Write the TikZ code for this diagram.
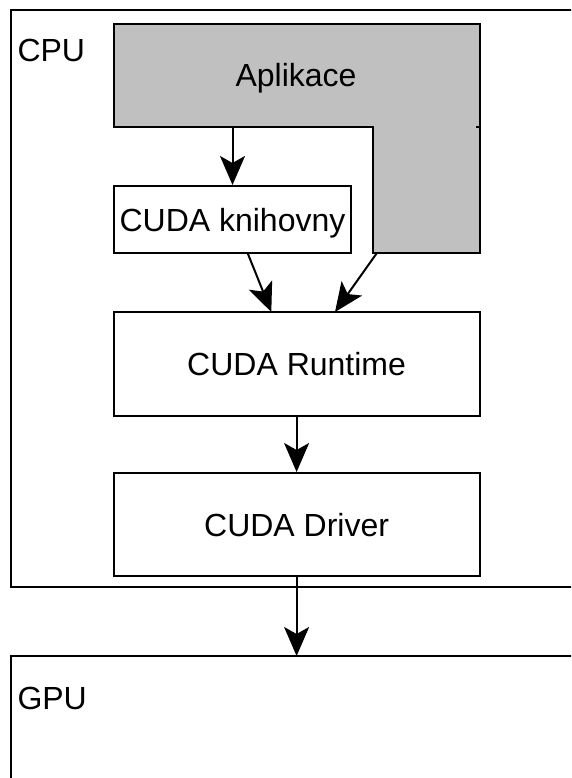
\documentclass[tikz,border=0pt]{standalone}
\usepackage{fontspec}
\setmainfont{Liberation Sans}
\usetikzlibrary{arrows.meta}
\definecolor{appgray}{HTML}{C0C0C0}
\begin{document}
\begin{tikzpicture}[x=1pt,y=-1pt,line width=2pt,
  txt/.style={font=\fontsize{32}{38}\selectfont, inner sep=0pt, text height=23pt, text depth=0pt},
  box/.style={draw, line width=2pt, fill=white, inner sep=0pt, txt},
  arr/.style={-{Stealth[length=29pt,width=25pt,inset=7pt]}, line width=2pt}]
\useasboundingbox (0,0) rectangle (571,778);
\clip (0,0) rectangle (571,778);
% CPU container
\draw (11,10) rectangle (640,587);
\node[txt, anchor=west] (cpu) at (16.5,50) {CPU};
% GPU container
\draw (11,820) -- (11,656) -- (640,656);
\coordinate (gpuline) at (0,656);
\node[txt, anchor=west] (gpu) at (16.5,697.5) {GPU};
% Aplikace L-shape
\draw[fill=appgray] (113.6,24.5) -- (479.6,24.5) -- (479.6,253) -- (373.3,253) -- (373.3,127) -- (113.6,127) -- cycle;
\draw (476,127) -- (479.6,127);
\node[txt] (app) at (296,75) {Aplikace};
\coordinate (appout) at (232.5,127);
\coordinate (appcorner) at (376.9,253);
% boxes
\node[box, minimum width=237.8pt, minimum height=67pt] (lib) at (232.5,219.5) {CUDA knihovny};
\node[box, minimum width=366pt, minimum height=104pt] (rt) at (296.6,364) {CUDA Runtime};
\node[box, minimum width=366pt, minimum height=103pt] (drv) at (296.6,524.5) {CUDA Driver};
\coordinate (libout) at (247.6,253);
\coordinate (rtin1) at (271.3,312);
\coordinate (rtin2) at (335,312);
% connectors
\draw[arr] (appout) -- (lib.north);
\draw[arr] (libout) -- (rtin1);
\draw[arr] (appcorner) -- (rtin2);
\draw[arr] (rt.south) -- (drv.north);
\draw[arr] (drv.south) -- (drv.south |- gpuline);
\end{tikzpicture}
\end{document}
